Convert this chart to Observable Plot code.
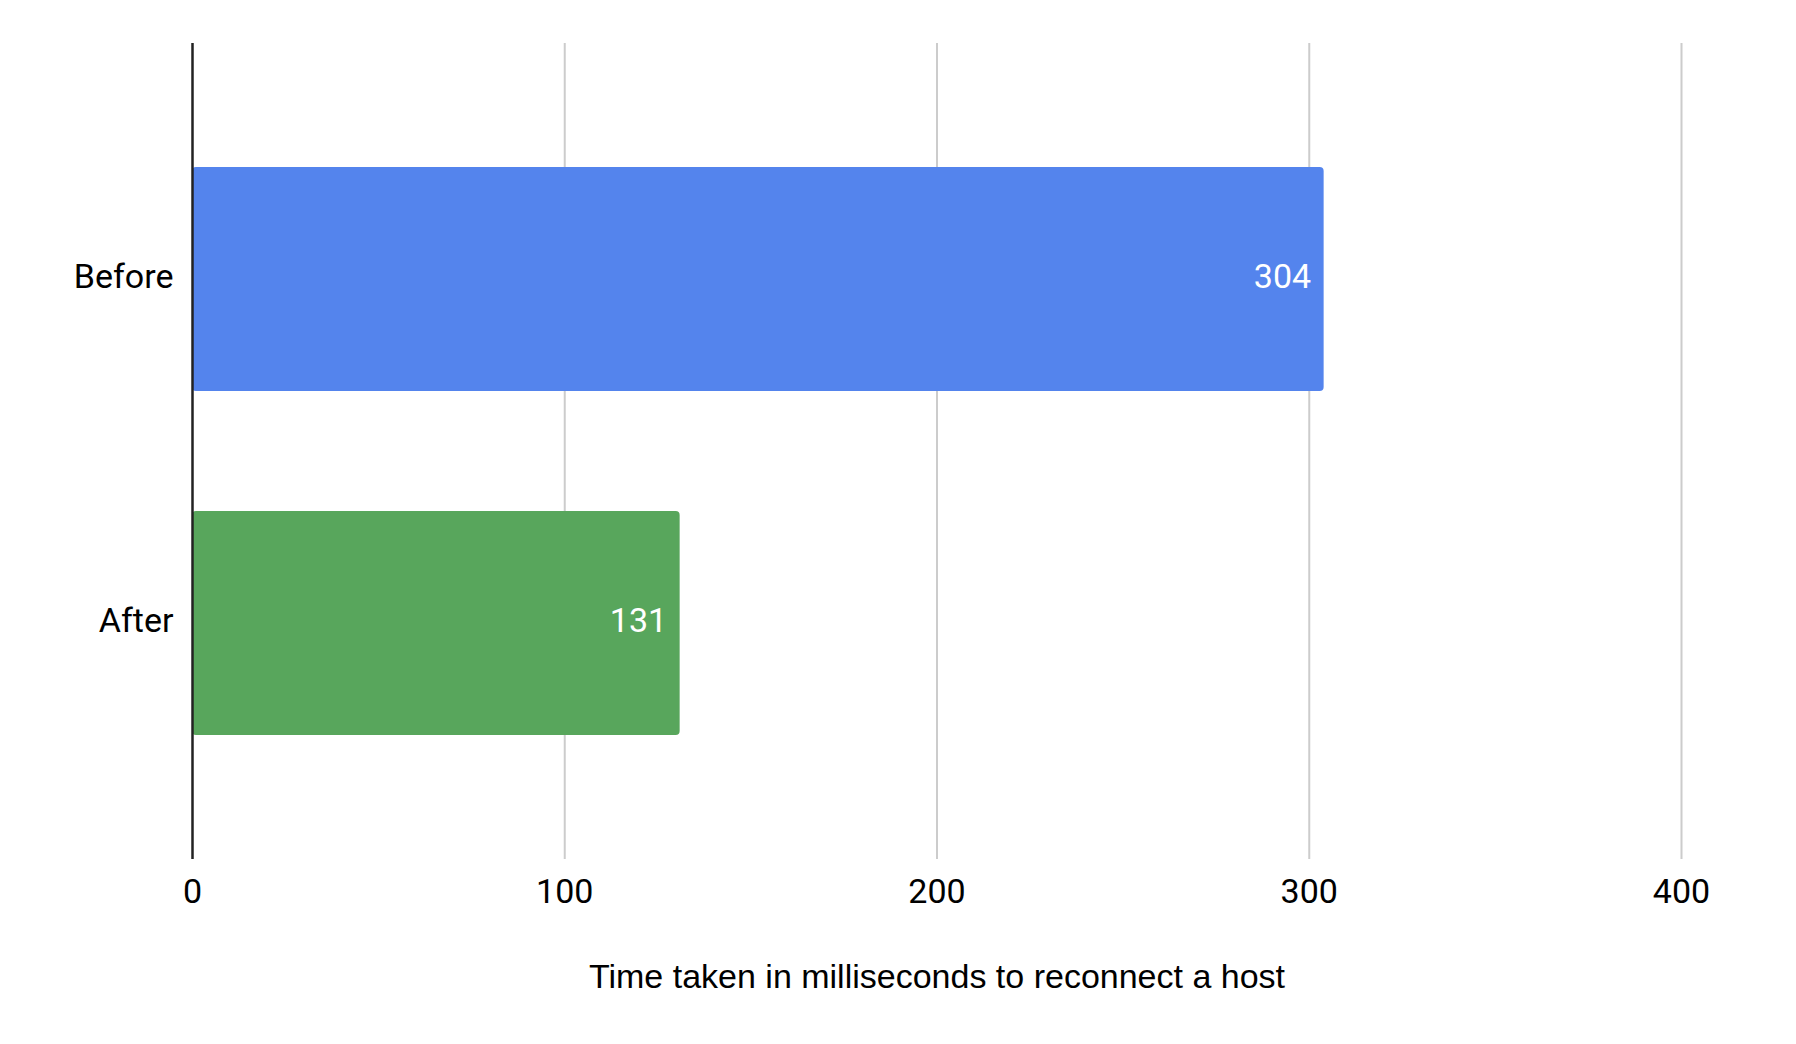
<!DOCTYPE html>
<html>
<head>
<meta charset="utf-8">
<script src="https://cdn.jsdelivr.net/npm/d3@7"></script>
<script src="https://cdn.jsdelivr.net/npm/@observablehq/plot@0.6"></script>
<style>
  html, body { margin: 0; padding: 0; background: #fff; }
  svg { display: block; }
</style>
</head>
<body>
<div id="chart"></div>
<script>
const categories = ["Before", "After"];
const values = [304, 131];
const barColors = ["#5484ed", "#58a65c"];
const xTicks = [0, 100, 200, 300, 400];
const xTitle = "Time taken in milliseconds to reconnect a host";

const data = categories.map((c, i) => ({category: c, value: values[i], color: barColors[i]}));

const chart = Plot.plot({
  width: 1796,
  height: 1044,
  marginLeft: 192,
  marginRight: 115,
  marginTop: 43,
  marginBottom: 185,
  style: {fontFamily: "Roboto, sans-serif", background: "#fff"},
  x: {domain: [0, 400], ticks: xTicks},
  y: {domain: categories, paddingInner: 0.348, paddingOuter: 0.36},
  marks: [
    Plot.ruleX(xTicks.filter(d => d !== 0), {stroke: "#cccccc", strokeWidth: 2}),
    Plot.barX(data, {x: "value", y: "category", fill: "color", rx: 4}),
    Plot.ruleX([0], {stroke: "#222222", strokeWidth: 2.5}),
    Plot.text(data, {x: "value", y: "category", text: d => String(d.value), dx: -13, dy: -2, textAnchor: "end", fill: "#ffffff", fontSize: 34}),
    Plot.axisX({ticks: xTicks, tickSize: 0, tickPadding: 19, fontSize: 34, label: null, fill: "#000"}),
    Plot.axisY({tickSize: 0, tickPadding: 19, fontSize: 34, dy: -2, label: null, fill: "#000"}),
    Plot.text([xTitle], {frameAnchor: "bottom", dy: 128, fontSize: 34, fontFamily: "Liberation Sans, Arial, sans-serif", fill: "#000"})
  ]
});
document.getElementById("chart").appendChild(chart);
</script>
</body>
</html>
